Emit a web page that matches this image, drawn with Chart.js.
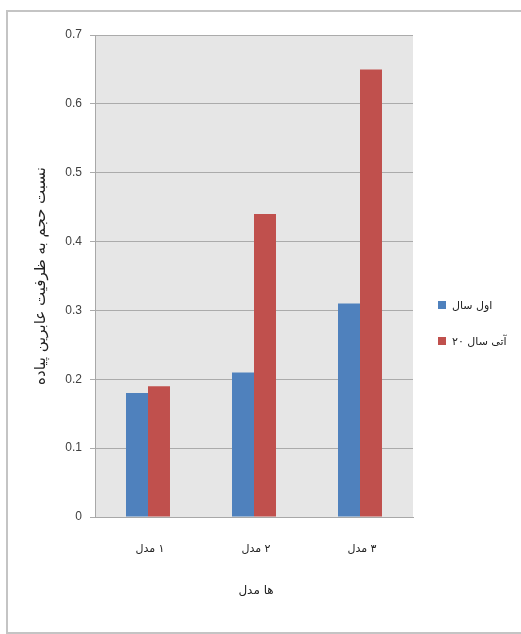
<!DOCTYPE html>
<html lang="fa" dir="ltr">
<head>
<meta charset="utf-8">
<script src="https://cdn.jsdelivr.net/npm/chart.js@4.4.1/dist/chart.umd.min.js"></script>
<style>
  html, body { margin: 0; padding: 0; background: #ffffff; }
  #wrap { position: relative; width: 521px; height: 634px; }
  canvas { display: block; }
</style>
</head>
<body>
<div id="wrap"><canvas id="chart" width="521" height="634"></canvas></div>
<script>
// Categories, series and axis texts
const categories = ['مدل ۱', 'مدل ۲', 'مدل ۳'];
const seriesNames = ['سال اول', '۲۰ سال آتی'];
const firstYear = [0.18, 0.21, 0.31];
const twentyYears = [0.19, 0.44, 0.65];
const yTicks = [0, 0.1, 0.2, 0.3, 0.4, 0.5, 0.6, 0.7];
const yTitle = 'نسبت حجم به ظرفیت عابرین پیاده';
const xTitle = 'مدل ها';

const LATIN = "'Liberation Sans', Arial, sans-serif";
const PERSIAN = "'DejaVu Sans', sans-serif";
const BLUE = '#4F81BD';
const RED = '#C0504D';
const TEXT = '#222222';

// Lays the words of a label out one by one, first word on the left,
// centred on (cx, cy) in the current transform.
function drawWords(ctx, words, cx, cy) {
  const space = ctx.measureText(' ').width;
  const widths = words.map(w => ctx.measureText(w).width);
  const total = widths.reduce((a, b) => a + b, 0) + space * (words.length - 1);
  let x = cx - total / 2;
  ctx.textAlign = 'left';
  ctx.textBaseline = 'middle';
  words.forEach((w, i) => {
    ctx.fillText(w, x, cy);
    x += widths[i] + space;
  });
  return total;
}

function wordsWidth(ctx, words) {
  const space = ctx.measureText(' ').width;
  return words.reduce((s, w) => s + ctx.measureText(w).width, 0) + space * (words.length - 1);
}

// Grey plot background and outer frame
const frame = {
  id: 'frame',
  beforeDraw(chart) {
    const { ctx, chartArea: a } = chart;
    ctx.save();
    ctx.fillStyle = '#E6E6E6';
    ctx.fillRect(a.left, a.top, a.right - a.left, a.bottom - a.top);
    ctx.restore();
  },
  afterDraw(chart) {
    const { ctx } = chart;
    ctx.save();
    ctx.strokeStyle = '#C4C4C4';
    ctx.lineWidth = 2;
    ctx.strokeRect(7, 11, 600, 622);
    ctx.restore();
  }
};

// Persian texts: category labels, axis titles and the legend
const persianText = {
  id: 'persianText',
  afterDraw(chart) {
    const { ctx, scales } = chart;
    const xs = scales.x;
    ctx.save();
    ctx.fillStyle = TEXT;

    // category labels under the axis
    ctx.font = '11px ' + PERSIAN;
    chart.data.labels.forEach((lab, i) => {
      drawWords(ctx, lab.split(' '), xs.getPixelForValue(i) + 2, 549);
    });

    // x axis title
    ctx.font = '12px ' + PERSIAN;
    drawWords(ctx, xTitle.split(' '), (chart.chartArea.left + chart.chartArea.right) / 2 + 2, 591);

    // y axis title, reading bottom to top
    ctx.save();
    ctx.translate(41, (chart.chartArea.top + chart.chartArea.bottom) / 2);
    ctx.rotate(-Math.PI / 2);
    ctx.font = '15px ' + PERSIAN;
    drawWords(ctx, yTitle.split(' ').reverse(), 0, 0);
    ctx.restore();

    // legend
    ctx.font = '11px ' + PERSIAN;
    chart.data.datasets.forEach((ds, i) => {
      const cy = 305 + i * 36;
      ctx.fillStyle = ds.backgroundColor;
      ctx.fillRect(438, cy - 4, 8, 8);
      ctx.fillStyle = TEXT;
      const words = ds.label.split(' ');
      drawWords(ctx, words, 452 + wordsWidth(ctx, words) / 2, cy + 1);
    });
    ctx.restore();
  }
};

new Chart(document.getElementById('chart'), {
  type: 'bar',
  data: {
    labels: categories,
    datasets: [
      { label: seriesNames[0], data: firstYear, backgroundColor: BLUE },
      { label: seriesNames[1], data: twentyYears, backgroundColor: RED }
    ]
  },
  options: {
    responsive: false,
    animation: false,
    devicePixelRatio: 1,
    layout: { padding: { top: 35, left: 0, right: 108, bottom: 0 } },
    datasets: { bar: { categoryPercentage: 0.415, barPercentage: 1.0, borderWidth: 0 } },
    plugins: {
      legend: { display: false },
      tooltip: { enabled: false }
    },
    scales: {
      x: {
        grid: { display: false, drawTicks: false },
        border: { display: true, color: '#A8A8A8', width: 1 },
        ticks: { display: false },
        afterFit(scale) { scale.height = 117; }
      },
      y: {
        min: 0,
        max: 0.7,
        afterBuildTicks(scale) { scale.ticks = yTicks.map(v => ({ value: v })); },
        grid: { color: '#ABABAB', lineWidth: 1, tickLength: 5, drawTicks: true },
        border: { display: true, color: '#A8A8A8', width: 1 },
        ticks: {
          padding: 8,
          color: '#404040',
          font: { family: LATIN, size: 12 },
          callback: v => (v === 0 ? '0' : v.toFixed(1))
        },
        afterFit(scale) { scale.width = 95; }
      }
    }
  },
  plugins: [frame, persianText]
});
</script>
</body>
</html>
